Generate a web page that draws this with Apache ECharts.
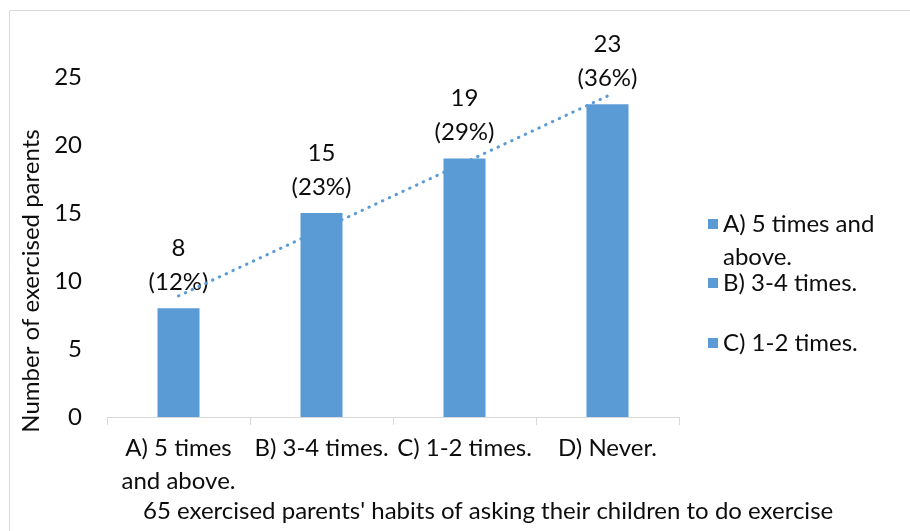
<!DOCTYPE html>
<html>
<head>
<meta charset="utf-8">
<style>
  html, body { margin: 0; padding: 0; background: #ffffff; }
  #chart { width: 910px; height: 531px; }
</style>
<script src="https://cdn.jsdelivr.net/npm/echarts@6/dist/echarts.min.js"></script>
</head>
<body>
<div id="chart"></div>
<script>
// Answer categories shown on the x axis
const categories = ['A) 5 times\nand above.', 'B) 3-4 times.', 'C) 1-2 times.', 'D) Never.'];
// Number of exercised parents per answer
const parentCounts = [8, 15, 19, 23];
// Share of the 65 parents, as printed above each bar
const parentShares = [12, 23, 29, 36];
// Linear trendline values at each category
const trendValues = [8.9, 13.8, 18.7, 23.6];
// Legend entries
const legendNames = ['A) 5 times and\nabove.', 'B) 3-4 times.', 'C) 1-2 times.'];
// Y axis ticks
const yTicks = { min: 0, max: 25, step: 5 };

const FONT = 'Lato, "Open Sans", sans-serif';
const FS = 24;
const BLUE = '#5B9BD5';
const TEXT = '#0d0d0d';

const chart = echarts.init(document.getElementById('chart'), null, { renderer: 'canvas' });

// First entry wraps onto two lines; a leading blank line keeps its icon level with the first line
const legendTops = [174.5, 266.5, 326.5];
const legends = legendNames.map((name, i) => ({
  data: [name],
  orient: 'vertical',
  left: 708,
  top: legendTops[i],
  padding: 0,
  icon: 'rect',
  itemWidth: 10,
  itemHeight: 10,
  selectedMode: false,
  formatter: i === 0 ? (n => '\n' + n) : (n => n),
  textStyle: {
    fontFamily: FONT,
    fontSize: FS,
    color: TEXT,
    lineHeight: 33
  }
}));

const legendSeries = legendNames.map(name => ({
  name: name,
  type: 'line',
  data: [],
  itemStyle: { color: BLUE },
  lineStyle: { color: BLUE }
}));

chart.setOption({
  backgroundColor: '#ffffff',
  animation: false,
  textStyle: { fontFamily: FONT },
  grid: { left: 107, right: 231, top: 77, bottom: 114, containLabel: false },
  legend: legends,
  graphic: [
    {
      type: 'rect',
      left: 7, top: 8,
      shape: { width: 920, height: 540 },
      style: { fill: 'none', stroke: '#d9d9d9', lineWidth: 1 },
      silent: true
    },
    {
      type: 'text',
      x: 143,
      y: 511,
      style: {
        text: "65 exercised parents' habits of asking their children to do exercise",
        fontFamily: FONT,
        fontSize: FS,
        fill: TEXT,
        verticalAlign: 'middle'
      }
    }
  ],
  xAxis: {
    type: 'category',
    data: categories,
    axisLine: { show: true, lineStyle: { color: '#d9d9d9', width: 1 } },
    axisTick: { show: true, length: 8, alignWithLabel: false, lineStyle: { color: '#d9d9d9' } },
    axisLabel: {
      interval: 0,
      margin: 15,
      fontSize: FS,
      lineHeight: 33,
      color: TEXT,
      fontFamily: FONT
    },
    splitLine: { show: false }
  },
  yAxis: {
    type: 'value',
    min: yTicks.min,
    max: yTicks.max,
    interval: yTicks.step,
    name: 'Number of exercised parents',
    nameLocation: 'middle',
    nameGap: 52,
    nameTextStyle: {
      fontSize: FS,
      color: TEXT,
      fontFamily: FONT,
      // the title sits a little below the middle of the axis
      padding: [0, 68, 0, 0]
    },
    axisLine: { show: false },
    axisTick: { show: false },
    splitLine: { show: false },
    axisLabel: { margin: 25, fontSize: FS, color: TEXT, fontFamily: FONT }
  },
  series: [
    {
      name: 'Number of exercised parents',
      type: 'bar',
      data: parentCounts,
      barWidth: 42,
      itemStyle: { color: BLUE },
      label: {
        show: true,
        position: 'top',
        distance: 9,
        fontSize: FS,
        lineHeight: 34,
        color: TEXT,
        fontFamily: FONT,
        formatter: p => p.value + '\n(' + parentShares[p.dataIndex] + '%)'
      },
      z: 2
    },
    {
      name: 'Trend',
      type: 'line',
      data: trendValues,
      symbol: 'none',
      smooth: false,
      lineStyle: { color: BLUE, width: 3, type: [0.5, 7], cap: 'round' },
      z: 3
    },
    ...legendSeries
  ]
});
</script>
</body>
</html>
